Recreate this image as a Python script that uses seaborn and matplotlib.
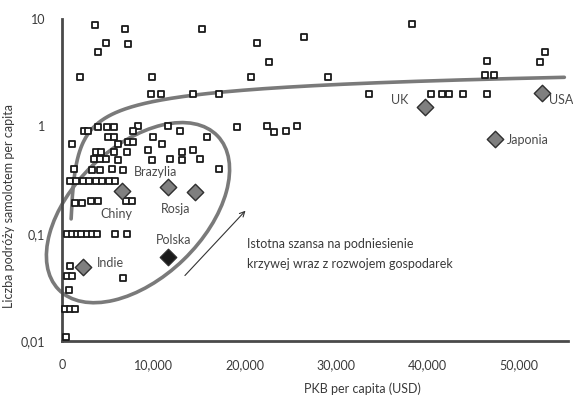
import numpy as np
import pandas as pd
import matplotlib
matplotlib.use("Agg")
import matplotlib.pyplot as plt
import seaborn as sns
from matplotlib.patches import Ellipse
from matplotlib.transforms import ScaledTranslation
from matplotlib.ticker import FixedLocator, FuncFormatter

# --- countries (background points): GDP per capita (USD) and air trips per capita
gdp_other = [
    3600, 6900, 15300, 4800, 3900, 7200, 2000, 9800, 9700, 10800, 14300, 17200,
    20700, 21400, 22700, 26500, 29100, 38300, 33600, 40400, 41600, 42400, 43900,
    46500, 46500, 46300, 47300, 52300, 52900, 19200, 22400, 23200, 24500, 25700,
    1100, 2400, 2800, 3900, 4900, 5700, 8300, 11600, 12900, 5000, 5700, 7800,
    10000, 11000, 6100, 7200, 7800, 3700, 4300, 5700, 7100, 9400, 3500, 4200,
    4800, 6100, 9800, 1300, 3300, 4200, 5500, 6700, 15900, 11800, 13100, 13100,
    14300, 15100, 17200,
    900, 1500, 2300, 3000, 3700, 4400, 5100, 5800,
    1400, 2200, 3200, 3900, 7000, 7700,
    500, 1100, 1600, 2100, 2700, 3300, 3800, 5800, 7100,
    900, 500, 1100, 6700, 800, 300, 900, 1400, 400,
]
trips_other = [
    8.8, 8.1, 8.1, 6.0, 4.9, 5.8, 2.9, 2.9, 2.0, 2.0, 2.0, 2.0,
    2.9, 6.0, 4.0, 6.8, 2.9, 9.0, 2.0, 2.0, 2.0, 2.0, 2.0,
    2.0, 4.05, 3.0, 3.0, 4.0, 4.9, 0.98, 1.0, 0.88, 0.9, 1.0,
    0.69, 0.9, 0.9, 0.98, 0.98, 0.98, 1.0, 1.0, 0.9, 0.8, 0.8, 0.9,
    0.79, 0.69, 0.69, 0.71, 0.71, 0.58, 0.58, 0.58, 0.58, 0.6, 0.5, 0.5,
    0.5, 0.49, 0.49, 0.4, 0.39, 0.39, 0.4, 0.39, 0.79, 0.5, 0.58, 0.49,
    0.6, 0.5, 0.4,
    0.31, 0.31, 0.31, 0.31, 0.31, 0.31, 0.31, 0.31,
    0.195, 0.195, 0.2, 0.2, 0.2, 0.2,
    0.1, 0.1, 0.1, 0.1, 0.1, 0.1, 0.1, 0.1, 0.1,
    0.05, 0.04, 0.04, 0.039, 0.03, 0.02, 0.02, 0.02, 0.011,
]

# --- highlighted countries
highlight_names = ["UK", "USA", "Japonia", "Chiny", "Brazylia", "Rosja", "Indie", "Polska"]
highlight_gdp = [39700, 52600, 47400, 6600, 11600, 14600, 2300, 11600]
highlight_trips = [1.5, 2.03, 0.76, 0.25, 0.275, 0.247, 0.049, 0.06]

# logarithmic trend line: trips = A * ln(gdp) + B
TREND_A = 0.68
TREND_B = -4.56
trend_start, trend_end = 1000, 55000

x_ticks = [0, 10000, 20000, 30000, 40000, 50000]
y_ticks = [0.01, 0.1, 1, 10]
y_tick_labels = ["0,01", "0,1", "1", "10"]

sns.set_theme(style="white")
plt.rcParams["font.family"] = ["Lato", "DejaVu Sans"]
text_color = "#3a3a3a"

fig = plt.figure(figsize=(5.73, 3.96), dpi=100)
ax = fig.add_axes([62 / 573, 1 - 341 / 396, (568 - 62) / 573, (341 - 19) / 396])

others = pd.DataFrame({"gdp": gdp_other, "trips": trips_other})
sns.scatterplot(data=others, x="gdp", y="trips", marker="s", s=22,
                facecolor="white", edgecolor="#1a1a1a", linewidth=1.3,
                ax=ax, zorder=3, clip_on=False)

# trend curve
tx = np.linspace(trend_start, trend_end, 400)
ty = TREND_A * np.log(tx) + TREND_B
sns.lineplot(x=tx, y=ty, color="#7a7a7a", linewidth=2.6, ax=ax, zorder=2,
             sort=False)

hl = pd.DataFrame({"name": highlight_names, "gdp": highlight_gdp,
                   "trips": highlight_trips})
for color, sub in zip(["#7f7f7f", "#1a1a1a"],
                      [hl[hl.name != "Polska"], hl[hl.name == "Polska"]]):
    sns.scatterplot(data=sub, x="gdp", y="trips", marker="D", s=70,
                    color=color, edgecolor="#2e2e2e", linewidth=1.0,
                    ax=ax, zorder=4)

# ellipse around developing economies (size in inches, centred in data space)
ell_center = (8320, 0.157)
ell = Ellipse((0, 0), width=2.21, height=1.31, angle=44, fill=False,
              edgecolor="#7a7a7a", linewidth=2.6,
              transform=fig.dpi_scale_trans + ScaledTranslation(*ell_center, ax.transData),
              zorder=2, clip_on=False)
ax.add_patch(ell)

# country labels
label_kw = dict(fontsize=9, color="#4a4a4a", zorder=5)
ax.text(10190, 0.372, "Brazylia", ha="center", va="center", **label_kw)
ax.text(5900, 0.154, "Chiny", ha="center", va="center", **label_kw)
ax.text(12400, 0.171, "Rosja", ha="center", va="center", **label_kw)
ax.text(12200, 0.0878, "Polska", ha="center", va="center", **label_kw)
ax.text(5260, 0.0536, "Indie", ha="center", va="center", **label_kw)
ax.text(37000, 1.75, "UK", ha="center", va="center", **label_kw)
ax.text(53300, 1.75, "USA", ha="left", va="center", clip_on=False, **label_kw)
ax.text(48700, 0.74, "Japonia", ha="left", va="center", **label_kw)

# arrow and comment
ax.annotate("", xy=(20300, 0.171), xytext=(13250, 0.039),
            arrowprops=dict(arrowstyle="->", color="#333333", lw=0.8,
                            mutation_scale=9))
ax.text(20260, 0.0807, "Istotna szansa na podniesienie", ha="left",
        va="center", fontsize=9, color=text_color)
ax.text(20260, 0.0526, "krzywej wraz z rozwojem gospodarek", ha="left",
        va="center", fontsize=9, color=text_color)

ax.set_yscale("log")
ax.set_xlim(0, 55400)
ax.set_ylim(0.01, 10)
ax.xaxis.set_major_locator(FixedLocator(x_ticks))
ax.xaxis.set_major_formatter(FuncFormatter(lambda v, p: f"{int(v):,}"))
ax.yaxis.set_major_locator(FixedLocator(y_ticks))
ax.yaxis.set_minor_locator(FixedLocator([]))
ax.set_yticklabels(y_tick_labels)
ax.tick_params(axis="both", length=0, labelsize=9, labelcolor=text_color)
ax.tick_params(axis="x", pad=13)
ax.tick_params(axis="y", pad=12)

ax.set_xlabel("PKB per capita (USD)", fontsize=9, color=text_color)
ax.set_ylabel("Liczba podróży samolotem per capita", fontsize=9, color=text_color)
ax.xaxis.set_label_coords(0.593, -0.13)
ax.yaxis.set_label_coords(-0.092, 0.42)

for side in ["top", "right"]:
    ax.spines[side].set_visible(False)
for side in ["left", "bottom"]:
    ax.spines[side].set_color("#4a4a4a")
    ax.spines[side].set_linewidth(2)
ax.grid(False)
ax.set_facecolor("white")

fig.savefig("out.png", dpi=100, facecolor="white")
